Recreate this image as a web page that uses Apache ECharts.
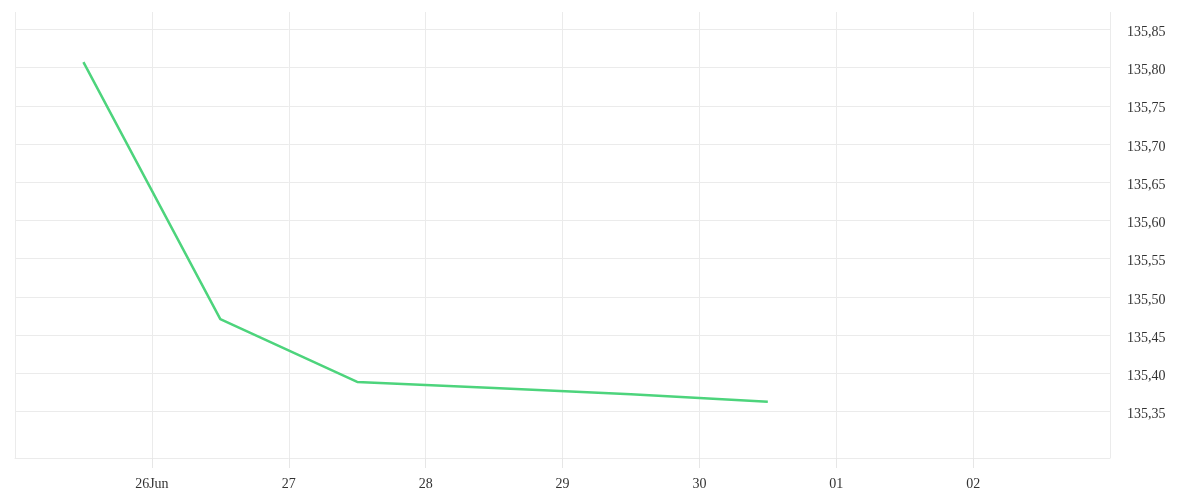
<!DOCTYPE html>
<html>
<head>
<meta charset="utf-8">
<script src="https://cdn.jsdelivr.net/npm/echarts@6/dist/echarts.min.js"></script>
<style>
  html, body { margin: 0; padding: 0; background: #fff; }
  #myChart { width: 1200px; height: 500px; }
</style>
</head>
<body>
<div id="myChart"></div>
<script>
var DAY = 86400000;
// price readings, one per day at noon (UTC)
var pointDates = ['2023-06-25T12:00:00Z', '2023-06-26T12:00:00Z', '2023-06-27T12:00:00Z',
                  '2023-06-28T12:00:00Z', '2023-06-29T12:00:00Z', '2023-06-30T12:00:00Z'];
var prices = [135.807, 135.471, 135.389, 135.381, 135.373, 135.363];
var yTicks = [135.35, 135.40, 135.45, 135.50, 135.55, 135.60, 135.65, 135.70, 135.75, 135.80, 135.85];
var months = ['Jan', 'Feb', 'Mar', 'Apr', 'May', 'Jun', 'Jul', 'Aug', 'Sep', 'Oct', 'Nov', 'Dec'];

window.onload = function () {
    var myChart = echarts.init(document.getElementById('myChart'));
    var xMin = Date.parse('2023-06-25T00:00:00Z');
    var xMax = Date.parse('2023-07-03T00:00:00Z');
    var gridColor = '#ebebeb';
    var textStyle = { color: '#333', fontFamily: 'Liberation Serif', fontSize: 14 };

    var seriesData = pointDates.map(function (d, i) {
        return [Date.parse(d), prices[i]];
    });

    var option = {
        animation: false,
        grid: { left: 15, right: 90, top: 12, bottom: 42 },
        xAxis: {
            type: 'value',
            min: xMin,
            max: xMax,
            interval: DAY,
            axisLine: { show: true, onZero: false, lineStyle: { color: gridColor } },
            axisTick: { show: true, inside: false, length: 10, lineStyle: { color: '#e6e6e6', width: 1 } },
            splitLine: { show: true, lineStyle: { color: gridColor } },
            axisLabel: {
                showMinLabel: false,
                showMaxLabel: false,
                margin: 19,
                color: textStyle.color,
                fontFamily: textStyle.fontFamily,
                fontSize: textStyle.fontSize,
                formatter: function (v, idx) {
                    var d = new Date(v);
                    var dd = ('0' + d.getUTCDate()).slice(-2);
                    return idx === 1 ? dd + months[d.getUTCMonth()] : dd;
                }
            }
        },
        yAxis: {
            type: 'value',
            position: 'right',
            min: 135.2895,
            max: 135.8726,
            axisLine: { show: false },
            axisTick: { show: false, customValues: yTicks },
            splitLine: { show: true, customValues: yTicks, lineStyle: { color: gridColor } },
            axisLabel: {
                customValues: yTicks,
                margin: 17,
                verticalAlign: 'top',
                lineHeight: 6,
                color: textStyle.color,
                fontFamily: textStyle.fontFamily,
                fontSize: textStyle.fontSize,
                formatter: function (v) {
                    return v.toFixed(2).replace('.', ',');
                }
            }
        },
        series: [{
            type: 'line',
            data: seriesData,
            showSymbol: false,
            lineStyle: { color: '#4dd47c', width: 2.5 },
            itemStyle: { color: '#4dd47c' }
        }]
    };
    myChart.setOption(option);
};
</script>
</body>
</html>
